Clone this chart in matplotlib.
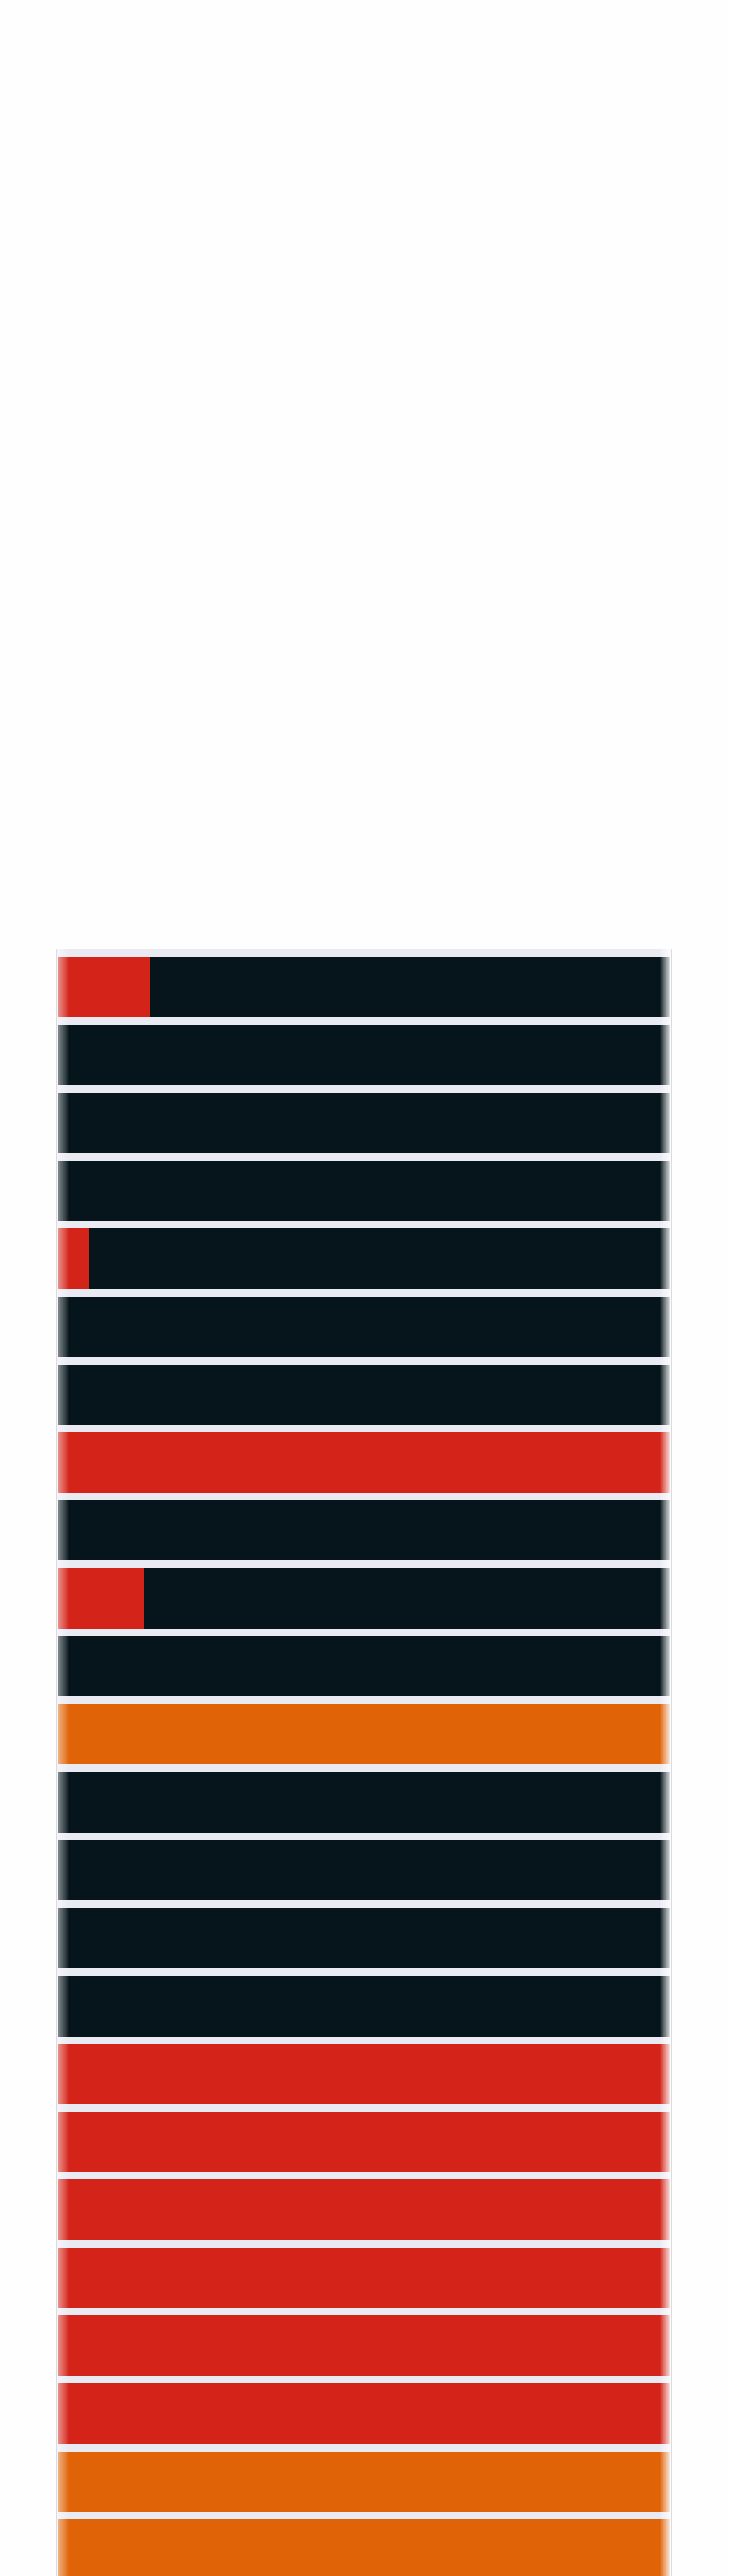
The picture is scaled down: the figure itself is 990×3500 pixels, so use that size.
import numpy as np
import matplotlib
matplotlib.use("Agg")
import matplotlib.pyplot as plt

# ---- data (percent share of each row) ----
rows = [f"Row {i+1}" for i in range(24)]
red_share    = [15, 0, 0, 0, 5, 0, 0, 100, 0, 14, 0, 0, 0, 0, 0, 0, 100, 100, 100, 100, 100, 100, 0, 0]
dark_share   = [85, 100, 100, 100, 95, 100, 100, 0, 100, 86, 100, 0, 100, 100, 100, 100, 0, 0, 0, 0, 0, 0, 0, 0]
orange_share = [0, 0, 0, 0, 0, 0, 0, 0, 0, 0, 0, 100, 0, 0, 0, 0, 0, 0, 0, 0, 0, 0, 100, 100]

series = [("red", red_share, "#D42319"), ("dark", dark_share, "#06151B"), ("orange", orange_share, "#E06307")]

W, H = 990, 3500
fig = plt.figure(figsize=(W / 100, H / 100), dpi=100)
fig.patch.set_facecolor("#FEFEFE")

ax_left, ax_right, ax_top = 77, 911, 1290
ax = fig.add_axes([ax_left / W, 0, (ax_right - ax_left) / W, (H - ax_top) / H])
ax.set_facecolor("#EAEAF3")

pitch = 92.3
bar_h = 82 / pitch
y = np.arange(len(rows))
left = np.zeros(len(rows))
for name, vals, col in series:
    vals = np.array(vals, dtype=float)
    ax.barh(y, vals, left=left, height=bar_h, color=col, edgecolor="none", zorder=2)
    left += vals

# limits: bars span x from px 79 to 910
px_per_unit = (910 - 79) / 100
ax.set_xlim(-(79 - ax_left) / px_per_unit, 100 + (ax_right - 910) / px_per_unit)
top_lim = -bar_h / 2 - 10 / pitch
ax.set_ylim(top_lim + (H - ax_top) / pitch, top_lim)

# edge fade overlay (decorative)
n = 834
xs = np.arange(n)
alpha = np.zeros(n)
lf = 18
alpha[:lf] = np.linspace(0.55, 0.0, lf)
rf = 16
alpha[n - rf:] = np.linspace(0.0, 0.9, rf)
img = np.ones((1, n, 4))
img[0, :, 3] = alpha
ax.imshow(img, extent=[0, 1, 0, 1], transform=ax.transAxes, aspect="auto",
          zorder=3, interpolation="bilinear")
ax.set_xlim(-(79 - ax_left) / px_per_unit, 100 + (ax_right - 910) / px_per_unit)
ax.set_ylim(top_lim + (H - ax_top) / pitch, top_lim)

ax.set_xticks([])
ax.set_yticks([])
for s in ["top", "bottom"]:
    ax.spines[s].set_visible(False)
for s in ["left", "right"]:
    ax.spines[s].set_color("#D3D6DC")
    ax.spines[s].set_linewidth(1.2)

fig.savefig("out.png", dpi=100, facecolor=fig.get_facecolor())
